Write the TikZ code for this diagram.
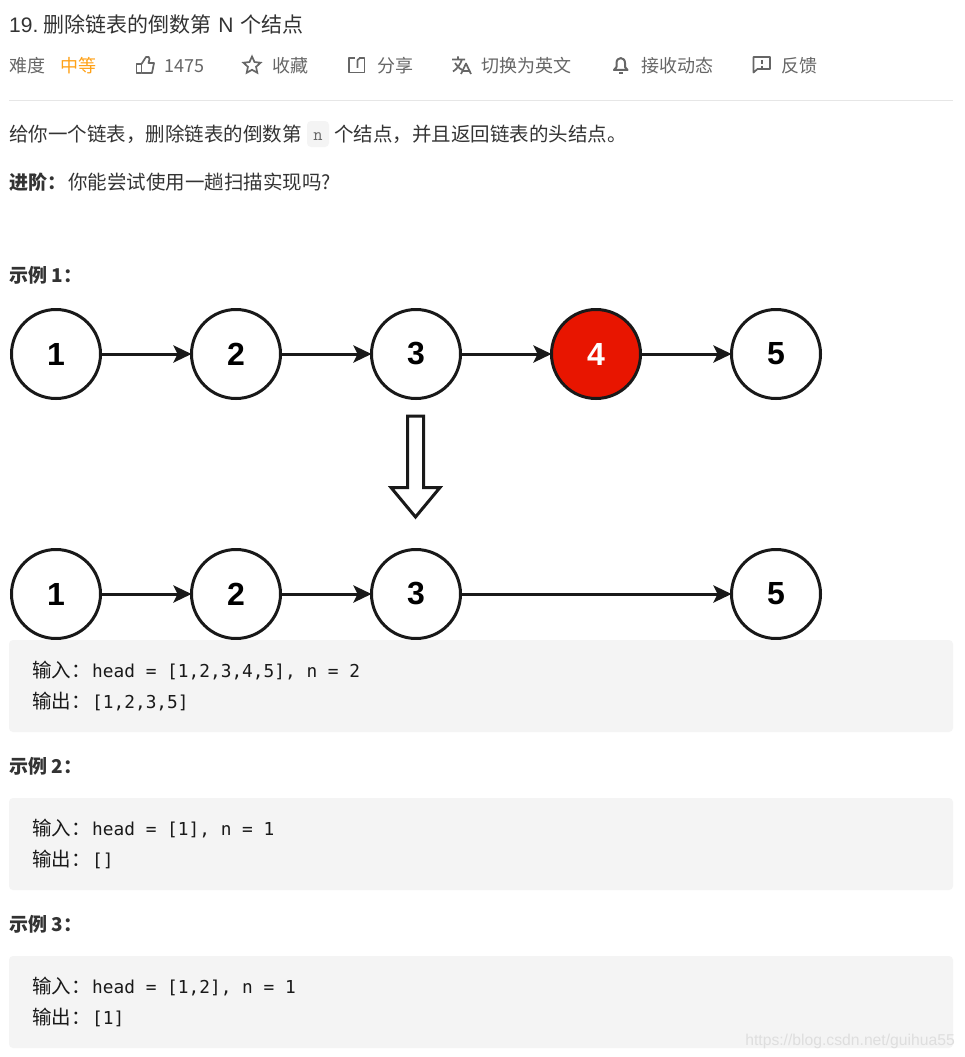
\documentclass[tikz,border=0pt]{standalone}
\usepackage{fontspec}
\setmainfont{Liberation Sans}
\newfontfamily\cjk{Noto Sans CJK SC}
\newfontfamily\codefont{DejaVu Sans Mono}
\usetikzlibrary{positioning,arrows.meta,shapes.geometric}
\definecolor{inkc}{HTML}{333333}
\definecolor{metac}{HTML}{666666}
\definecolor{orangec}{HTML}{FFA116}
\definecolor{codebg}{HTML}{F4F4F4}
\definecolor{rulec}{HTML}{E6E6E6}
\definecolor{redc}{HTML}{E81500}
\definecolor{markc}{HTML}{DEDEDE}
\newcommand{\fs}[1]{\fontsize{#1}{#1}\selectfont}
\newcommand{\codeval}[1]{\hspace{1.5pt}{\codefont\fs{17.8}#1}}

\begin{document}
\begin{tikzpicture}[
	x=1pt, y=-1pt,
	node distance=91pt and 91pt,
	list/.style={circle, draw=black!90, line width=3pt, fill=white, minimum size=89pt, inner sep=0pt, outer sep=0pt, font=\bfseries\fs{32}},
	line/.style={draw=black!90, line width=3pt, -{Stealth[length=18pt,width=17pt,inset=4pt]}},
	titletext/.style={anchor=base west, inner sep=0pt, text=inkc, font=\cjk\fs{21}},
	meta/.style={anchor=base west, inner sep=0pt, text=metac, font=\cjk\fs{18}},
	body/.style={anchor=base west, inner sep=0pt, text=inkc, font=\cjk\fs{19.5}},
	head/.style={anchor=base west, inner sep=0pt, text=inkc, font=\cjk\bfseries\fs{19}},
	code/.style={anchor=base west, inner sep=0pt, text=black!90, font=\cjk\fs{19.5}},
	codebox/.style={fill=codebg, rounded corners=4pt},
	icon/.style={draw=metac, line width=1.7pt, line join=round},
	]
	\useasboundingbox (0,0) rectangle (965,1057);
	\fill[white] (0,0) rectangle (965,1057);

	\node[titletext] (title) at (9,33) {{\rmfamily 19.}\hspace{5pt}删除链表的倒数第\hspace{7pt}{\rmfamily N}\hspace{7pt}个结点};
	\node[meta] (level) at (9,72) {难度};
	\node[meta,text=orangec] (levelval) at (60,72) {中等};
	\node[meta] (likes) at (164,72) {1475};
	\node[meta] (fav) at (272,72) {收藏};
	\node[meta] (share) at (377,72) {分享};
	\node[meta] (trans) at (481,72) {切换为英文};
	\node[meta] (notify) at (641,72) {接收动态};
	\node[meta] (report) at (781,72) {反馈};

	%icons
	\draw[icon] (136.5,64) rectangle (141.5,73);
	\draw[icon] (141.5,64) -- (146,57) .. controls (148,55.5) and (150,57.5) .. (149.5,59) -- (148.5,63) -- (154,63) -- (152,73) -- (141.5,73);
	\node[star, star points=5, star point ratio=2.1, draw=metac, line width=1.7pt, minimum size=18pt, inner sep=0pt] (favicon) at (252,65.5) {};
	\draw[icon] (355,58) -- (349,58) -- (349,72.5) -- (364.5,72.5) -- (364.5,58) -- (359,58);
	\draw[icon] (357.5,68) -- (357.5,60) -- (360,58);
	\draw[icon] (452,59.5) -- (465,59.5) (458,56.5) -- (458,59.5) (462,59.5) .. controls (460,65) and (457,69) .. (453,71.5) (455,63) .. controls (457,66) and (459,68.5) .. (462.5,70);
	\draw[icon] (461,74) -- (466,63.5) -- (471,74) (463,71) -- (469,71);
	\draw[icon,line width=2pt] (614,70) -- (616.5,67) -- (616.5,63) .. controls (616.5,56.5) and (625,56.5) .. (625,63) -- (625,67) -- (627.5,70) -- cycle;
	\draw[icon] (619,73) -- (623,73);
	\draw[icon] (753.5,57) -- (770,57) -- (770,69) -- (757.5,69) -- (753.5,72.5) -- cycle;
	\draw[icon] (761.8,60) -- (761.8,64.5) (761.8,65.8) -- (761.8,67.6);

	\draw[rulec, line width=1.2pt] (9,100.5) -- (953,100.5);

	\node[body] (desca) at (9,141) {给你一个链表，删除链表的倒数第};
	\fill[codebg] (307,121) [rounded corners=4pt] rectangle (329,147);
	\node[anchor=base, inner sep=0pt, text=metac, font=\ttfamily\fs{18}] (inln) at (318,140) {n};
	\node[body] (descb) at (334,141) {个结点，并且返回链表的头结点。};
	\node[head] (adv) at (9,189) {进阶：};
	\node[body] (advtext) at (68,189) {你能尝试使用一趟扫描实现吗?};
	\node[head] (exa) at (9,282) {示例 1：};

	%first list
	\node[list] (a1) at (56,354) {1};
	\node[list,right=of a1] (a2) {2};
	\node[list,right=of a2] (a3) {3};
	\node[list,right=of a3,fill=redc,text=white] (a4) {4};
	\node[list,right=of a4] (a5) {5};
	\path[line] (a1.east) to (a2.west);
	\path[line] (a2.east) to (a3.west);
	\path[line] (a3.east) to (a4.west);
	\path[line] (a4.east) to (a5.west);

	%hollow arrow
	\draw[black!90, line width=3pt, line join=miter, fill=white] (407.5,416) -- (423.5,416) -- (423.5,487.5) -- (440,487.5) -- (415.5,517) -- (391,487.5) -- (407.5,487.5) -- cycle;

	%second list
	\node[list,below=151pt of a1] (b1) {1};
	\node[list,right=of b1] (b2) {2};
	\node[list,right=of b2] (b3) {3};
	\node[list,below=151pt of a5] (b5) {5};
	\path[line] (b1.east) to (b2.west);
	\path[line] (b2.east) to (b3.west);
	\path[line] (b3.east) to (b5.west);

	%code blocks
	\fill[codebox] (9,640) rectangle (953,732);
	\fill[codebox] (9,798) rectangle (953,890);
	\fill[codebox] (9,956) rectangle (953,1048);
	\node[code] (ina) at (32,677) {输入：\codeval{head = [1,2,3,4,5], n = 2}};
	\node[code] (outa) at (32,708) {输出：\codeval{[1,2,3,5]}};
	\node[head] (exb) at (9,773) {示例 2：};
	\node[code] (inb) at (32,835) {输入：\codeval{head = [1], n = 1}};
	\node[code] (outb) at (32,866) {输出：\codeval{[]}};
	\node[head] (exc) at (9,931) {示例 3：};
	\node[code] (inc) at (32,993) {输入：\codeval{head = [1,2], n = 1}};
	\node[code] (outc) at (32,1024) {输出：\codeval{[1]}};

	\node[anchor=base east, inner sep=0pt, text=markc, font=\fs{15.7}] (mark) at (955,1045) {https://blog.csdn.net/guihua55};
\end{tikzpicture}
\end{document}
